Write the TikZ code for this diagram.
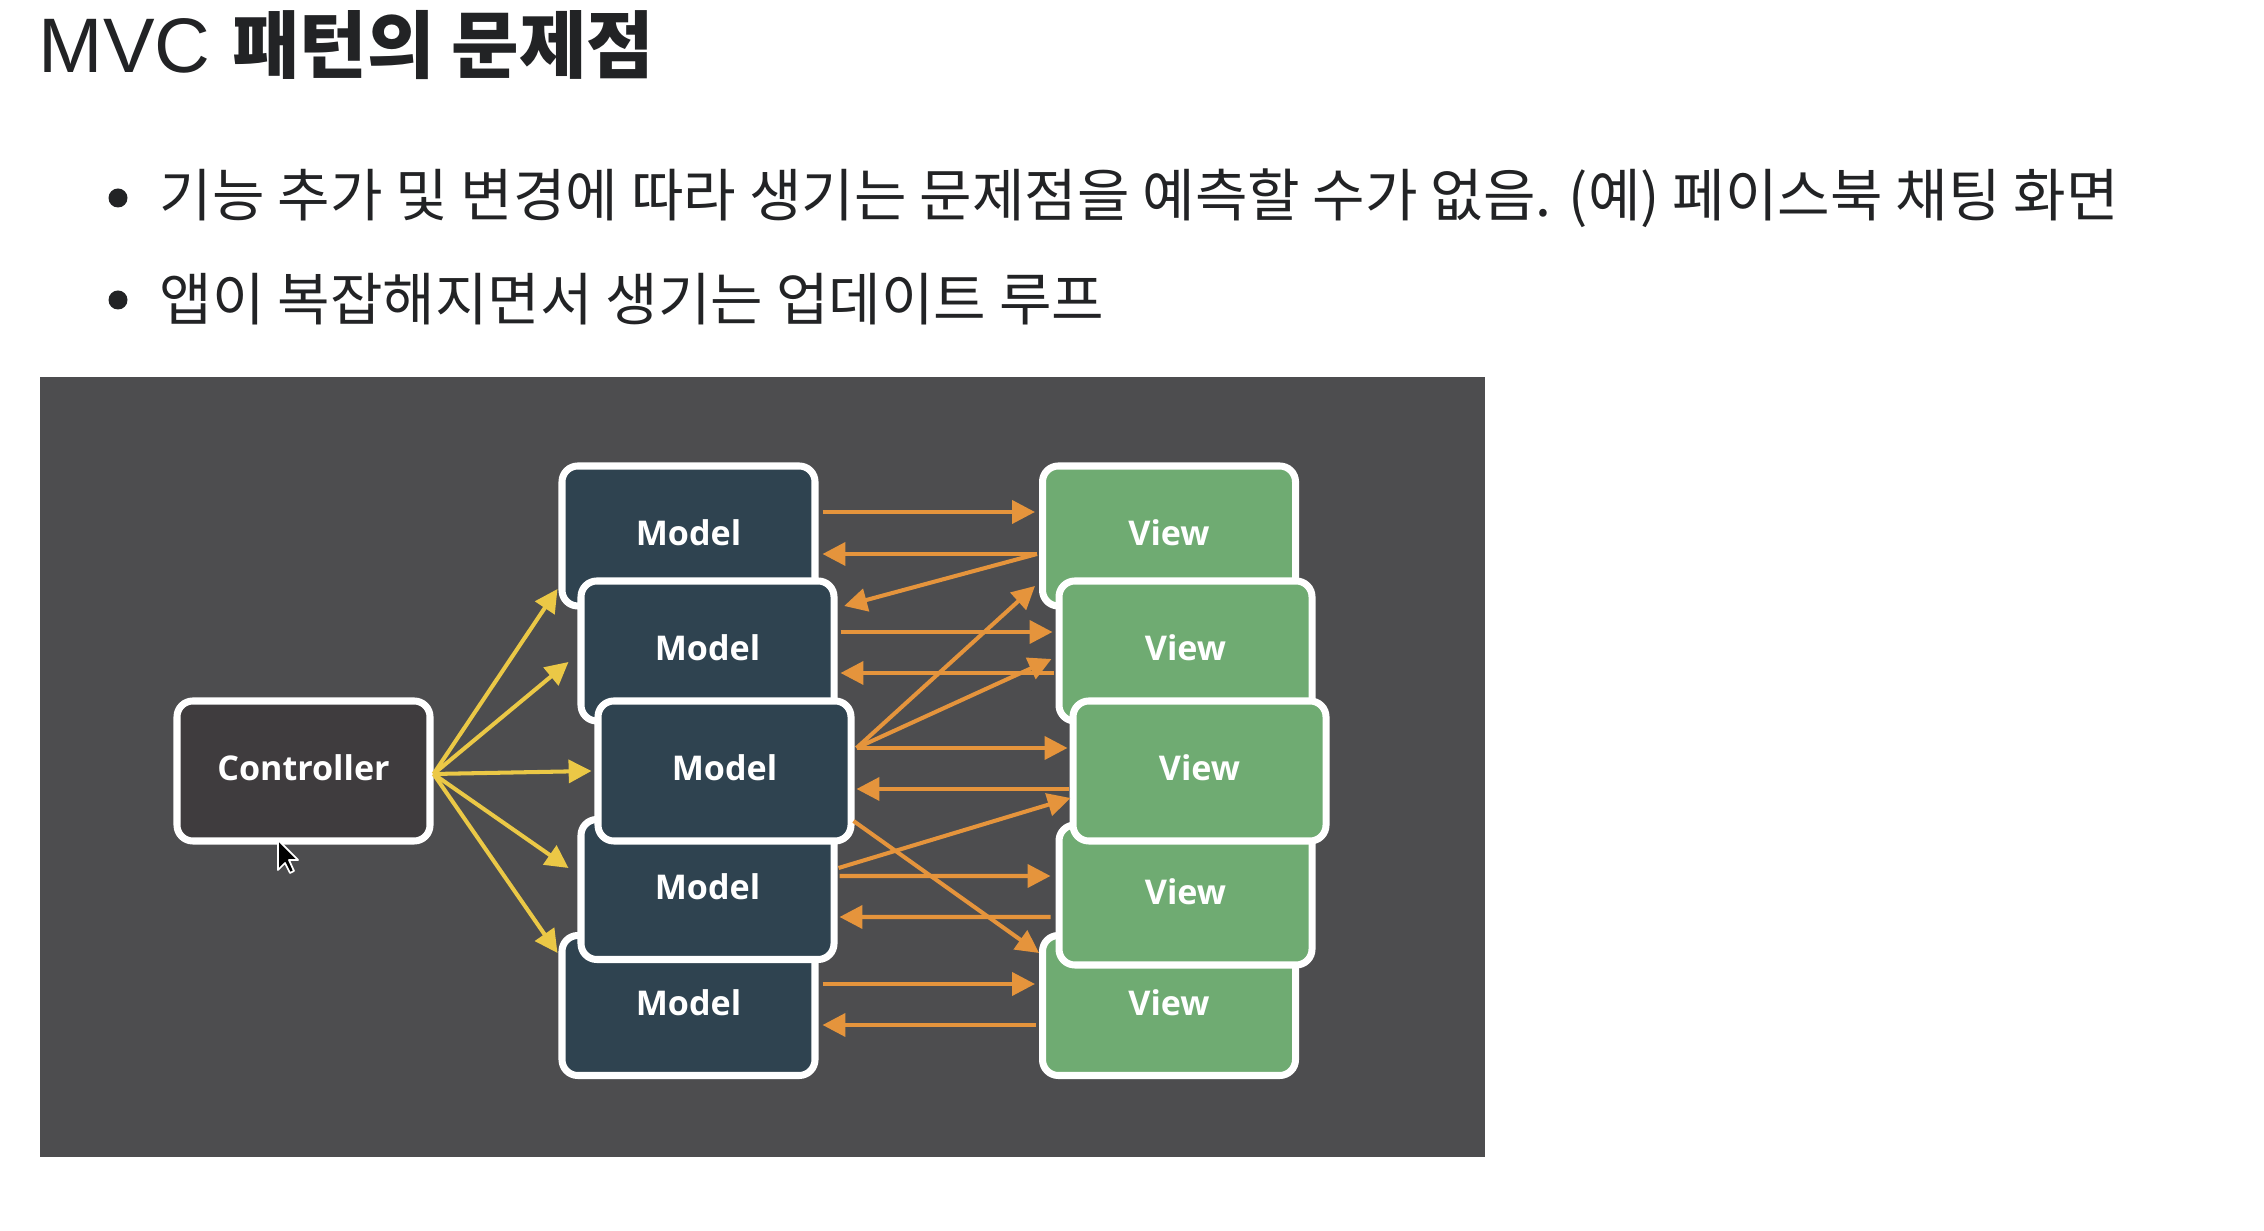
\documentclass[tikz,border=0pt]{standalone}
\usepackage{xcolor}
\usepackage{fontspec}
\usetikzlibrary{arrows.meta}
\setmainfont{Liberation Sans}
\newfontfamily\cjk{Noto Sans CJK KR}
\newfontfamily\boxfont{Open Sans}
\definecolor{panelgray}{HTML}{4D4D4F}
\definecolor{ctrlgray}{HTML}{3F3C3E}
\definecolor{modelblue}{HTML}{2F4350}
\definecolor{viewgreen}{HTML}{6FAB72}
\definecolor{arryellow}{HTML}{EBC846}
\definecolor{arrorange}{HTML}{E5943C}
\definecolor{inkblack}{HTML}{222325}

\begin{document}
\begin{tikzpicture}[
  box/.style={rectangle,draw=white,line width=2pt,rounded corners=4.5pt,
    minimum width=2.53cm,minimum height=1.40cm,text depth=1.8pt,
    align=center,text=white,font=\boxfont\bfseries\fontsize{9.7}{12}\selectfont},
  yarr/.style={-{Stealth[inset=0pt,length=6.5pt,width=6.5pt]},draw=arryellow,line width=1.15pt},
  oarr/.style={-{Stealth[inset=0pt,length=6.5pt,width=6.5pt]},draw=arrorange,line width=1.15pt},
  textline/.style={anchor=west,inner sep=0pt,text=inkblack,font=\cjk\fontsize{16.25}{19}\selectfont},
  bullet/.style={circle,fill=inkblack,inner sep=0pt,minimum size=.19cm}]

  \useasboundingbox (0,0) rectangle (22.64,12.30);
  \fill[white] (0,0) rectangle (22.64,12.30);

  \node[anchor=west,inner sep=0pt,text=inkblack,font=\fontsize{22}{24}\selectfont] (title) at (.38,11.85)
    {MVC {\cjk\bfseries\fontsize{20.9}{24}\selectfont 패턴의 문제점}};
  \node[bullet] (dot1) at (1.18,10.32) {};
  \node[textline] (line1) at (1.59,10.32) {기능 추가 및 변경에 따라 생기는 문제점을 예측할 수가 없음. (예) 페이스북 채팅 화면};
  \node[bullet] (dot2) at (1.18,9.30) {};
  \node[textline] (line2) at (1.59,9.31) {앱이 복잡해지면서 생기는 업데이트 루프};

  \fill[panelgray] (.40,.73) rectangle (14.85,8.53);

  \node[box,fill=ctrlgray] (ctrl) at (3.035,4.59) {Controller};

  \node[box,fill=modelblue] (m1) at (6.885,6.94) {Model};
  \node[box,fill=modelblue] (m5) at (6.885,2.245) {Model};
  \node[box,fill=modelblue] (m2) at (7.075,5.79) {Model};
  \node[box,fill=modelblue] (m4) at (7.075,3.405) {Model};
  \node[box,fill=modelblue] (m3) at (7.245,4.59) {Model};

  \node[box,fill=viewgreen] (v1) at (11.69,6.94) {View};
  \node[box,fill=viewgreen] (v5) at (11.69,2.245) {View};
  \node[box,fill=viewgreen] (v2) at (11.855,5.79) {View};
  \node[box,fill=viewgreen] (v4) at (11.855,3.35) {View};
  \node[box,fill=viewgreen] (v3) at (11.995,4.59) {View};

  % controller fan
  \draw[yarr] ([yshift=-.03cm]ctrl.east) -- ([xshift=-.01cm,yshift=-.53cm]m1.west);
  \draw[yarr] ([yshift=-.03cm]ctrl.east) -- ([xshift=-.09cm,yshift=-.11cm]m2.west);
  \draw[yarr] ([yshift=-.03cm]ctrl.east) -- ([xshift=-.03cm]m3.west);
  \draw[yarr] ([yshift=-.03cm]ctrl.east) -- ([xshift=-.09cm,yshift=.215cm]m4.west);
  \draw[yarr] ([yshift=-.03cm]ctrl.east) -- ([xshift=-.01cm,yshift=.525cm]m5.west);

  % model <-> view
  \draw[oarr] ([xshift=.04cm,yshift=.24cm]m1.east) -- ([xshift=-.04cm,yshift=.24cm]v1.west);
  \draw[oarr] ([xshift=-.02cm,yshift=-.18cm]v1.west) -- ([xshift=.04cm,yshift=-.18cm]m1.east);
  \draw[oarr] ([xshift=-.02cm,yshift=-.18cm]v1.west) -- ([xshift=.066cm,yshift=.45cm]m2.east);
  \draw[oarr] ([xshift=.03cm,yshift=.19cm]m2.east) -- ([xshift=-.03cm,yshift=.19cm]v2.west);
  \draw[oarr] ([xshift=-.02cm,yshift=-.22cm]v2.west) -- ([xshift=.03cm,yshift=-.22cm]m2.east);
  \draw[oarr] ([xshift=.02cm,yshift=.23cm]m3.east) -- ([xshift=-.04cm,yshift=-.50cm]v1.west);
  \draw[oarr] ([xshift=.02cm,yshift=.23cm]m3.east) -- ([xshift=-.04cm,yshift=-.08cm]v2.west);
  \draw[oarr] ([xshift=.02cm,yshift=.23cm]m3.east) -- ([xshift=-.02cm,yshift=.23cm]v3.west);
  \draw[oarr] ([xshift=-.01cm,yshift=-.18cm]v3.west) -- ([xshift=.02cm,yshift=-.18cm]m3.east);
  \draw[oarr] ([xshift=.01cm,yshift=.215cm]m4.east) -- ([xshift=.01cm,yshift=-.27cm]v3.west);
  \draw[oarr] ([xshift=.02cm,yshift=.135cm]m4.east) -- ([xshift=-.05cm,yshift=.19cm]v4.west);
  \draw[oarr] ([xshift=-.05cm,yshift=-.22cm]v4.west) -- ([xshift=.02cm,yshift=-.275cm]m4.east);
  \draw[oarr] ([xshift=-.01cm,yshift=-.50cm]m3.east) -- ([xshift=.0cm,yshift=.525cm]v5.west);
  \draw[oarr] ([xshift=.04cm,yshift=.215cm]m5.east) -- ([xshift=-.04cm,yshift=.215cm]v5.west);
  \draw[oarr] ([xshift=-.03cm,yshift=-.195cm]v5.west) -- ([xshift=.04cm,yshift=-.195cm]m5.east);

  % mouse pointer
  \draw[white,line width=.5pt,fill=black,line join=round]
    (2.78,3.90) -- (2.78,3.60) -- (2.85,3.67) -- (2.90,3.57) -- (2.94,3.59) -- (2.89,3.70) -- (2.98,3.70) -- cycle;
\end{tikzpicture}
\end{document}
